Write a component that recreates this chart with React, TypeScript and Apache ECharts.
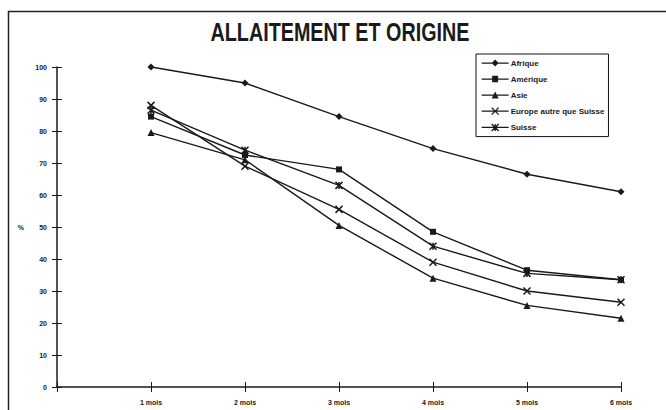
import React, { useEffect, useRef } from "react";
import * as echarts from "echarts";

const monthLabels = ["1 mois", "2 mois", "3 mois", "4 mois", "5 mois", "6 mois"];
const months = [1, 2, 3, 4, 5, 6];
const yTicks = [0, 10, 20, 30, 40, 50, 60, 70, 80, 90, 100];

const afrique = [100, 95, 84.5, 74.5, 66.5, 61];
const amerique = [84.5, 72.5, 68, 48.5, 36.5, 33.5];
const asie = [79.5, 71, 50.5, 34, 25.5, 21.5];
const europe = [88, 69, 55.5, 39, 30, 26.5];
const suisse = [86.5, 74, 63, 44, 35.5, 33.5];

const seriesNames = ["Afrique", "Amérique", "Asie", "Europe autre que Suisse", "Suisse"];
const seriesValues = [afrique, amerique, asie, europe, suisse];
const symbols = [
  "diamond",
  "rect",
  "triangle",
  "path://M0,0L10,10M10,0L0,10",
  "path://M0,0L10,10M10,0L0,10M5,0L5,10",
];
const symbolSizes = [7, 6, 7, 7, 7];
const legendIcons = [
  "path://M0,3H27V4.2H0Z M13.5,0L17,3.5L13.5,7L10,3.5Z",
  "path://M0,3H27V4.2H0Z M10.5,0.2H16.5V6.8H10.5Z",
  "path://M0,3H27V4.2H0Z M13.5,0L17,7H10Z",
  "path://M0,3.5H27 M10,0L17,7 M17,0L10,7",
  "path://M0,3.5H27 M10,0L17,7 M17,0L10,7 M13.5,0V7",
];

export default function App() {
  const ref = useRef<HTMLDivElement>(null);
  useEffect(() => {
    if (!ref.current) return;
    const chart = echarts.init(ref.current, undefined, { renderer: "svg" });
    const font = "Liberation Sans, Arial, sans-serif";
    const ink = "#1a1a1a";
    const styleFor = (i: number) =>
      i >= 3
        ? { color: "rgba(0,0,0,0)", borderColor: ink, borderWidth: 1.5 }
        : { color: ink, borderColor: ink, borderWidth: 0 };
    const legendStyleFor = (i: number) =>
      i >= 3
        ? { color: "rgba(0,0,0,0)", borderColor: ink, borderWidth: 1.3 }
        : { color: ink, borderColor: ink, borderWidth: 0 };
    const series = seriesNames.map((name, i) => ({
      name,
      type: "line",
      data: months.map((m, j) => [m, seriesValues[i][j]]),
      symbol: symbols[i],
      symbolSize: symbolSizes[i],
      showAllSymbol: true,
      lineStyle: { color: ink, width: 1.4 },
      itemStyle: styleFor(i),
      emphasis: { disabled: true },
      xAxisIndex: 0,
      yAxisIndex: 0,
    }));
    chart.setOption({
      animation: false,
      backgroundColor: "#ffffff",
      textStyle: { fontFamily: font },
      grid: { left: 57, right: 45, top: 67, bottom: 23, containLabel: false },
      graphic: [
        {
          type: "rect",
          shape: { x: 8.5, y: 11.5, width: 700, height: 430 },
          style: { fill: "none", stroke: "#222", lineWidth: 1.5 },
          silent: true,
        },
        {
          type: "text",
          x: 340,
          y: 32,
          scaleX: 0.76,
          style: {
            text: "ALLAITEMENT ET ORIGINE",
            fontFamily: font,
            fontWeight: "bold",
            fontSize: 26,
            fill: "#1a1a1a",
            textAlign: "center",
            textVerticalAlign: "middle",
          },
          silent: true,
        },
      ],
      legend: {
        orient: "vertical",
        left: 476,
        top: 54,
        width: 146,
        padding: [5, 4, 5, 5],
        itemWidth: 27,
        itemHeight: 7,
        itemGap: 8,
        borderColor: "#111",
        borderWidth: 1,
        backgroundColor: "#fff",
        textStyle: { fontFamily: font, fontWeight: "bold", fontSize: 8, color: ink, padding: [0, 0, 0, -3] },
        data: seriesNames.map((name, i) => ({
          name,
          icon: legendIcons[i],
          itemStyle: legendStyleFor(i),
        })),
      },
      xAxis: [
        {
          type: "value",
          min: 0,
          max: 6,
          interval: 1,
          position: "bottom",
          axisLine: { onZero: false, lineStyle: { color: ink, width: 1.5 } },
          axisTick: { length: 5, lineStyle: { color: ink, width: 1 } },
          axisLabel: {
            margin: 12,
            fontFamily: font,
            fontWeight: "bold",
            fontSize: 7,
            color: ink,
            formatter: (v: number) => (v >= 1 ? monthLabels[v - 1] : ""),
          },
          splitLine: { show: false },
        },
        {
          type: "value",
          min: 0,
          max: 6,
          interval: 1,
          position: "bottom",
          axisLine: { show: false, onZero: false },
          axisTick: { inside: true, length: 5, lineStyle: { color: ink, width: 1 } },
          axisLabel: { show: false },
          splitLine: { show: false },
        },
      ],
      yAxis: [
        {
          type: "value",
          min: 0,
          max: 100,
          interval: 10,
          name: "%",
          nameLocation: "middle",
          nameGap: 33,
          nameRotate: 0,
          nameTextStyle: { fontFamily: font, fontWeight: "bold", fontSize: 7, color: ink },
          axisLine: { show: true, lineStyle: { color: ink, width: 1.5 } },
          axisTick: { show: true, length: 5, lineStyle: { color: ink, width: 1 } },
          axisLabel: {
            margin: 10,
            fontFamily: font,
            fontWeight: "bold",
            fontSize: 7,
            color: ink,
            formatter: (v: number) => (yTicks.includes(v) ? String(v) : ""),
          },
          splitLine: { show: false },
        },
        {
          type: "value",
          min: 0,
          max: 100,
          interval: 10,
          position: "left",
          axisLine: { show: false },
          axisTick: { show: true, inside: true, length: 5, lineStyle: { color: ink, width: 1 } },
          axisLabel: { show: false },
          splitLine: { show: false },
        },
      ],
      series,
    });
    return () => chart.dispose();
  }, []);
  return (
    <div
      ref={ref}
      style={{ position: "fixed", left: 0, top: 0, width: 666, height: 410, background: "#fff" }}
    />
  );
}
